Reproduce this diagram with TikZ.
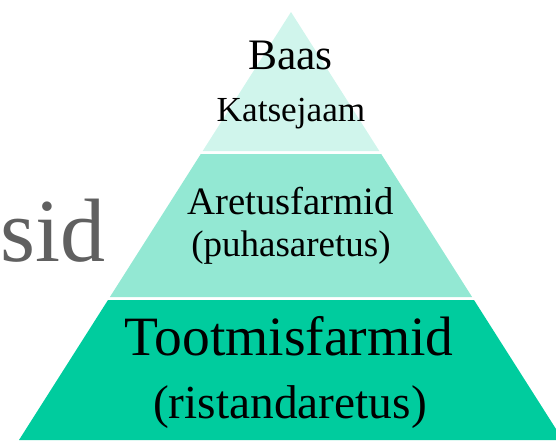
\documentclass[tikz,border=0pt]{standalone}
\usepackage{fontspec}
\setmainfont{Liberation Serif}
\definecolor{tierTop}{HTML}{D0F5EC}
\definecolor{tierMid}{HTML}{93E8D3}
\definecolor{tierBot}{HTML}{00CC9E}
\definecolor{sideGray}{HTML}{606060}
\begin{document}
\begin{tikzpicture}[x=1pt,y=-1pt,
  lbl/.style={anchor=base,inner sep=0pt,text=black},
  fs/.style={font=\fontsize{#1}{#1}\selectfont}]
\useasboundingbox (0,0) rectangle (556,440);
\clip (0,0) rectangle (556,440);
% tiers
\fill[tierTop] (291,12) -- (379.3,151) -- (202.7,151) -- cycle;
\fill[tierMid] (200.8,154) -- (381.2,154) -- (472.1,297) -- (109.9,297) -- cycle;
\fill[tierBot] (108,300) -- (474,300) -- (563,440) -- (19,440) -- cycle;
% labels
\node[lbl,fs=43.5] (baas) at (290.5,69) {Baas};
\node[lbl,fs=35.2] (katse) at (291,121) {Katsejaam};
\node[lbl,fs=38.8] (aret) at (290.5,214) {Aretusfarmid};
\node[lbl,fs=37] (puh) at (291,256) {(puhasaretus)};
\node[lbl,fs=55.5] (toot) at (289,355) {Tootmisfarmid};
\node[lbl,fs=47.4] (rist) at (290,418) {(ristandaretus)};
\node[anchor=base west,inner sep=0pt,text=sideGray,fs=90] (sid) at (0,261) {sid};
\end{tikzpicture}
\end{document}
